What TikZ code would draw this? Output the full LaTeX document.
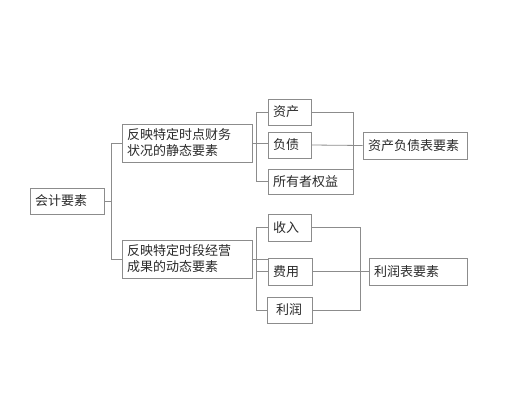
\documentclass[tikz,border=0pt]{standalone}
\usepackage{fontspec}
\newfontfamily\cjk{Noto Sans CJK SC}
\definecolor{boxgray}{HTML}{8C8C8C}
\definecolor{txtgray}{HTML}{2A2A2A}
\begin{document}
\begin{tikzpicture}[x=1pt, y=-1pt,
		box/.style={shape=rectangle, draw=boxgray, line width=0.8pt, inner xsep=5pt, inner ysep=0pt, align=left, text=txtgray, font=\cjk\fontsize{13}{16}\selectfont},
		link/.style={draw=boxgray, line width=0.8pt}]
			\useasboundingbox[fill=white] (0, 0) rectangle (508, 414);
			\node[box, text width=64pt, minimum height=26pt](N1) at (67, 201){会计要素};
			\node[box, text width=120pt, minimum height=38pt](N2) at (187, 143){反映特定时点财务\\状况的静态要素};
			\node[box, text width=120pt, minimum height=38pt](N3) at (187, 259){反映特定时段经营\\成果的动态要素};
			\node[box, text width=33pt, minimum height=26pt](N4) at (289.5, 112){资产};
			\node[box, text width=33pt, minimum height=26pt](N5) at (289.5, 145){负债};
			\node[box, text width=75pt, minimum height=25pt](N6) at (310.5, 181.5){所有者权益};
			\node[box, text width=94pt, minimum height=27pt](N7) at (415, 145.5){资产负债表要素};
			\node[box, text width=33pt, minimum height=27pt](N8) at (289.5, 227.5){收入};
			\node[box, text width=34pt, minimum height=27pt](N9) at (290, 271.5){费用};
			\node[box, text width=35pt, minimum height=26pt, inner xsep=5pt](N10) at (289.5, 310){\hspace*{4pt}利润};
			\node[box, text width=88pt, minimum height=27pt](N11) at (418, 271.5){利润表要素};
			\draw[link] (N1.east) -- ++(8, 0);
			\draw[link] (N2.west) -- ++(-10, 0) |- (N3.west);
			\draw[link] (N2.east) -- (N2.east -| N4.west);
			\draw[link] (N4.west) -- ++(-11, 0) |- (N6.west);
			\draw[link] (N4.east) -| (N6.east);
			\draw[link] (N5.east) -- (N7.west);
			\draw[link] (N3.east) -- (N3.east -| N8.west);
			\draw[link] (N8.west) -- ++(-11, 0) |- (N10.west);
			\draw[link] (N9.west) -- ++(-11, 0);
			\draw[link] (N8.east) -- ++(49, 0) |- (N10.east);
			\draw[link] (N9.east) -- (N11.west);
		\end{tikzpicture}
\end{document}
